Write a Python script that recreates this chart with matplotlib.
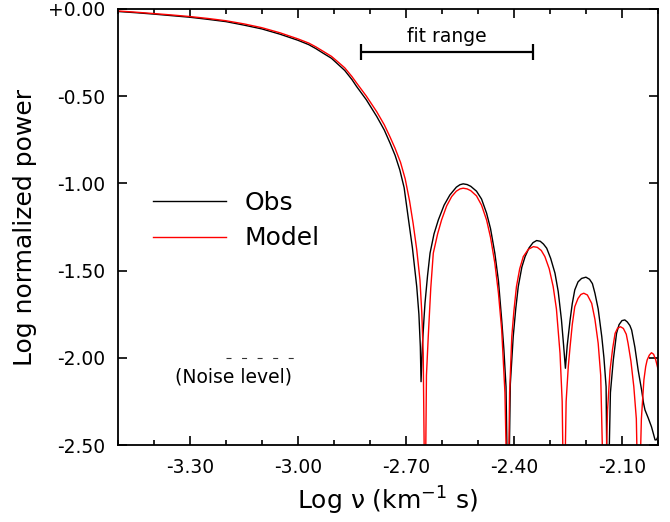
import matplotlib
matplotlib.use("Agg")
import matplotlib.pyplot as plt
from matplotlib.ticker import MultipleLocator, FixedLocator, FixedFormatter

# log frequency / log power of the observed spectrum
obs_x = [-3.50, -3.45, -3.40, -3.35, -3.30, -3.25, -3.20, -3.15, -3.10, -3.05,
         -3.00, -2.97, -2.95, -2.93,
         -2.907, -2.89, -2.87, -2.85, -2.837, -2.81, -2.781, -2.76, -2.744, -2.73,
         -2.717, -2.705, -2.694, -2.682, -2.670, -2.664, -2.660, -2.658,
         -2.654, -2.650, -2.647, -2.640, -2.633, -2.622, -2.610, -2.594, -2.578, -2.560,
         -2.550, -2.541, -2.530, -2.520, -2.504, -2.490, -2.476, -2.465, -2.453, -2.443,
         -2.434, -2.428, -2.422, -2.416,
         -2.410, -2.402, -2.395, -2.388, -2.378, -2.369, -2.358, -2.347, -2.337, -2.327,
         -2.318, -2.309, -2.298, -2.286, -2.277, -2.268, -2.262, -2.257,
         -2.252, -2.244, -2.238, -2.231, -2.222, -2.212, -2.200, -2.190, -2.182, -2.175,
         -2.166, -2.156, -2.150, -2.144, -2.140,
         -2.132, -2.124, -2.115, -2.108, -2.100, -2.092, -2.085, -2.078, -2.073, -2.064,
         -2.055, -2.045, -2.040, -2.036, -2.027, -2.018, -2.012, -2.008, -2.004, -2.000]
obs_y = [-0.015, -0.022, -0.030, -0.039, -0.048, -0.060, -0.073, -0.093, -0.115, -0.145,
         -0.180, -0.205, -0.228, -0.254,
         -0.283, -0.315, -0.353, -0.405, -0.445, -0.521, -0.617, -0.695, -0.770, -0.840,
         -0.923, -1.025, -1.191, -1.370, -1.592, -1.750, -1.936, -2.137,
         -1.920, -1.780, -1.686, -1.530, -1.400, -1.290, -1.210, -1.125, -1.067, -1.022,
         -1.008, -1.003, -1.007, -1.017, -1.045, -1.090, -1.171, -1.260, -1.401, -1.560,
         -1.783, -1.950, -2.166, -3.000,
         -2.150, -1.879, -1.720, -1.592, -1.480, -1.420, -1.370, -1.340, -1.328, -1.332,
         -1.348, -1.372, -1.430, -1.515, -1.620, -1.783, -1.930, -2.060,
         -1.930, -1.783, -1.690, -1.611, -1.565, -1.545, -1.538, -1.550, -1.575, -1.630,
         -1.720, -1.879, -2.000, -2.166, -3.000,
         -2.200, -2.013, -1.860, -1.810, -1.787, -1.783, -1.795, -1.815, -1.841, -1.940,
         -2.070, -2.190, -2.260, -2.299, -2.345, -2.395, -2.440, -2.471, -2.470, -2.452]

# model spectrum
mod_x = [-3.50, -3.45, -3.40, -3.35, -3.30, -3.25, -3.20, -3.15, -3.10, -3.05,
         -3.00, -2.97, -2.95, -2.93,
         -2.907, -2.89, -2.87, -2.85, -2.837, -2.81, -2.781, -2.76, -2.744, -2.73,
         -2.715, -2.702, -2.690, -2.680, -2.670, -2.661, -2.656, -2.652, -2.647,
         -2.643, -2.638, -2.631, -2.624, -2.612, -2.601, -2.587, -2.573, -2.560, -2.550,
         -2.541, -2.530, -2.520, -2.504, -2.490, -2.476, -2.465, -2.453, -2.443, -2.434,
         -2.425, -2.417,
         -2.412, -2.406, -2.400, -2.393, -2.384, -2.374, -2.360, -2.346, -2.335, -2.324,
         -2.314, -2.302, -2.291, -2.282, -2.272, -2.266, -2.261,
         -2.255, -2.249, -2.244, -2.238, -2.231, -2.222, -2.214, -2.206, -2.196, -2.184,
         -2.175, -2.166, -2.159, -2.149,
         -2.140, -2.133, -2.126, -2.119, -2.112, -2.104, -2.096, -2.088, -2.083, -2.075,
         -2.067, -2.060, -2.054,
         -2.046, -2.039, -2.034, -2.030, -2.024, -2.018, -2.012, -2.006, -2.001, -1.997]
mod_y = [-0.012, -0.019, -0.027, -0.035, -0.044, -0.055, -0.068, -0.086, -0.108, -0.137,
         -0.172, -0.196, -0.218, -0.243,
         -0.272, -0.302, -0.338, -0.388, -0.425, -0.500, -0.590, -0.665, -0.735, -0.800,
         -0.880, -0.975, -1.100, -1.230, -1.380, -1.554, -1.740, -1.974, -3.000,
         -2.100, -1.879, -1.600, -1.400, -1.290, -1.210, -1.130, -1.076, -1.045, -1.032,
         -1.028, -1.032, -1.042, -1.072, -1.125, -1.210, -1.310, -1.458, -1.630, -1.840,
         -2.200, -3.000,
         -2.200, -1.879, -1.730, -1.592, -1.490, -1.420, -1.378, -1.363, -1.367, -1.385,
         -1.420, -1.490, -1.592, -1.720, -1.974, -2.250, -3.000,
         -2.250, -2.050, -1.936, -1.810, -1.707, -1.660, -1.637, -1.630, -1.640, -1.688,
         -1.780, -1.917, -2.100, -3.000,
         -2.300, -2.070, -1.950, -1.860, -1.830, -1.822, -1.832, -1.865, -1.917, -2.020,
         -2.166, -2.350, -3.000,
         -2.350, -2.127, -2.050, -2.013, -1.985, -1.971, -1.980, -2.013, -2.055, -2.080]

fit_range = [-2.826, -2.348]
fit_level = -0.247
noise_level = -2.0
noise_span = [-3.20, -3.003]

xticks = [-3.30, -3.00, -2.70, -2.40, -2.10]
yticks = [0.0, -0.5, -1.0, -1.5, -2.0, -2.5]
ytick_labels = ["+0.00", "-0.50", "-1.00", "-1.50", "-2.00", "-2.50"]

fig = plt.figure(figsize=(6.7, 5.22), dpi=100)
ax = fig.add_axes([0.176, 0.1475, 0.806, 0.8355])

ax.plot(obs_x, obs_y, color="black", lw=1.0, label="Obs")
ax.plot(mod_x, mod_y, color="#ff0000", lw=1.0, label="Model")

# fit range bar
fmid = (fit_range[0] + fit_range[1]) / 2
fhalf = (fit_range[1] - fit_range[0]) / 2
ax.errorbar([fmid], [fit_level], xerr=[fhalf], fmt="none", ecolor="black",
            elinewidth=1.6, capsize=6, capthick=1.6)
ax.text(fmid, fit_level + 0.088, "fit range", ha="center", va="center", fontsize=13.5)

# noise level
ax.plot(noise_span, [noise_level, noise_level], color="#333333", lw=0.8,
        linestyle=(0, (4.5, 9.5)))
ax.text(-3.178, noise_level - 0.108, "(Noise level)", ha="center", va="center",
        fontsize=13.5)

ax.set_xlim(-3.5, -2.0)
ax.set_ylim(-2.5, 0.0)

ax.xaxis.set_major_locator(FixedLocator(xticks))
ax.xaxis.set_major_formatter(FixedFormatter([f"{v:.2f}" for v in xticks]))
ax.xaxis.set_minor_locator(MultipleLocator(0.1))
ax.yaxis.set_major_locator(FixedLocator(yticks))
ax.yaxis.set_major_formatter(FixedFormatter(ytick_labels))

ax.tick_params(which="both", direction="in", top=True, right=True, width=1.2)
ax.tick_params(which="major", length=6.5, labelsize=13.5, pad=9)
ax.tick_params(which="minor", length=3.6)
for s in ax.spines.values():
    s.set_linewidth(1.3)

ax.set_xlabel("Log ν (km$^{-1}$ s)", fontsize=18, labelpad=6)
ax.set_ylabel("Log normalized power", fontsize=18, labelpad=8)

ax.legend(loc="upper left", bbox_to_anchor=(0.065, 0.582), frameon=False,
          fontsize=18, handlelength=2.9, handletextpad=0.75, labelspacing=0.45,
          borderpad=0, borderaxespad=0)

fig.savefig("out.png", dpi=100)
